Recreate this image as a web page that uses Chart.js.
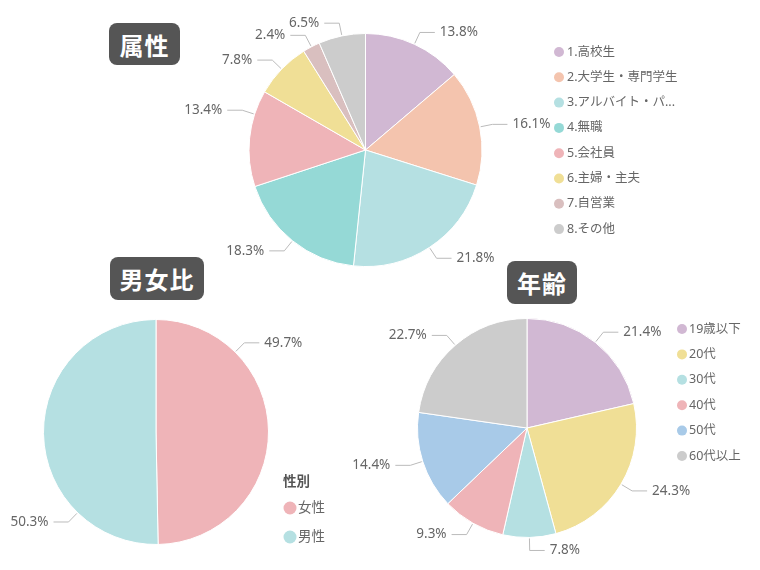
<!DOCTYPE html>
<html lang="ja">
<head>
<meta charset="utf-8">
<title>属性・男女比・年齢</title>
<script src="https://cdn.jsdelivr.net/npm/chart.js@4.4.1/dist/chart.umd.min.js"></script>
<style>
  html, body { margin: 0; padding: 0; background: #fff; }
  .stage { position: relative; width: 760px; height: 570px; overflow: hidden; }
  .stage canvas { position: absolute; left: 0; top: 0; }
  .badge {
    position: absolute;
    background: #555;
    color: #fff;
    font: bold 24px "Noto Sans CJK JP", sans-serif;
    border-radius: 8px;
    display: flex;
    align-items: center;
    justify-content: center;
    letter-spacing: 1px;
  }
</style>
</head>
<body>
<div class="stage">
  <canvas id="attrChart" width="760" height="570"></canvas>
  <canvas id="genderChart" width="760" height="570"></canvas>
  <canvas id="ageChart" width="760" height="570"></canvas>
  <div class="badge" style="left:109px;top:23px;width:71px;height:42px;">属性</div>
  <div class="badge" style="left:110px;top:257px;width:94px;height:43px;">男女比</div>
  <div class="badge" style="left:507px;top:261px;width:70px;height:43px;">年齢</div>
</div>
<script>
// 属性
const attrLabels = ['1.高校生', '2.大学生・専門学生', '3.アルバイト・パ...', '4.無職', '5.会社員', '6.主婦・主夫', '7.自営業', '8.その他'];
const attrValues = [13.8, 16.1, 21.8, 18.3, 13.4, 7.8, 2.4, 6.5];
const attrColors = ['#D1B8D3', '#F4C4AE', '#B5E0E2', '#95D9D6', '#EFB4B8', '#F0DF96', '#D9BFBF', '#CCCCCC'];

// 男女比
const genderLabels = ['女性', '男性'];
const genderValues = [49.7, 50.3];
const genderColors = ['#EFB4B8', '#B5E0E2'];

// 年齢
const ageLabels = ['19歳以下', '20代', '30代', '40代', '50代', '60代以上'];
const ageValues = [21.4, 24.3, 7.8, 9.3, 14.4, 22.7];
const ageColors = ['#D1B8D3', '#F0DF96', '#B5E0E2', '#EFB4B8', '#A8CAE8', '#CCCCCC'];

const FONT = '"Noto Sans", "Noto Sans CJK JP", sans-serif';
const TEXT_COLOR = '#666';

// etiquetas de porcentaje fuera del pastel con línea guía
const outsideLabels = {
  id: 'outsideLabels',
  afterDatasetsDraw(chart, args, opts) {
    const ctx = chart.ctx;
    const meta = chart.getDatasetMeta(0);
    const values = chart.data.datasets[0].data;
    const anchor = opts.anchor || [];
    ctx.save();
    ctx.font = '13.5px ' + FONT;
    ctx.textBaseline = 'middle';
    meta.data.forEach((arc, i) => {
      const p = arc.getProps(['x', 'y', 'startAngle', 'endAngle', 'outerRadius'], true);
      const f = anchor[i] != null ? anchor[i] : 0.5;
      const a = p.startAngle + (p.endAngle - p.startAngle) * f;
      const cos = Math.cos(a);
      const sin = Math.sin(a);
      const x0 = p.x + cos * (p.outerRadius + 1);
      const y0 = p.y + sin * (p.outerRadius + 1);
      const x1 = p.x + cos * (p.outerRadius + 13);
      const y1 = p.y + sin * (p.outerRadius + 13);
      const side = cos >= 0 ? 1 : -1;
      const x2 = x1 + side * 15;
      ctx.strokeStyle = '#bbb';
      ctx.lineWidth = 1;
      ctx.beginPath();
      ctx.moveTo(x0, y0);
      ctx.lineTo(x1, y1);
      ctx.lineTo(x2, y1);
      ctx.stroke();
      ctx.fillStyle = TEXT_COLOR;
      ctx.textAlign = side > 0 ? 'left' : 'right';
      ctx.fillText(values[i].toFixed(1) + '%', x2 + side * 5, y1);
    });
    ctx.restore();
  }
};

// leyenda con círculos
const dotLegend = {
  id: 'dotLegend',
  afterDraw(chart, args, opts) {
    const ctx = chart.ctx;
    const colors = chart.data.datasets[0].backgroundColor;
    ctx.save();
    ctx.textBaseline = 'middle';
    ctx.textAlign = 'left';
    if (opts.title) {
      ctx.font = 'bold ' + opts.fontSize + 'px ' + FONT;
      ctx.fillStyle = '#555';
      ctx.fillText(opts.title, opts.titleX, opts.titleY);
    }
    ctx.font = opts.fontSize + 'px ' + FONT;
    chart.data.labels.forEach((label, i) => {
      const y = opts.y + i * opts.gap;
      ctx.fillStyle = colors[i];
      ctx.beginPath();
      ctx.arc(opts.x, y, opts.radius, 0, Math.PI * 2);
      ctx.fill();
      ctx.fillStyle = TEXT_COLOR;
      ctx.fillText(label, opts.textX, y);
    });
    ctx.restore();
  }
};

function makePie(id, labels, values, colors, padding, labelOpts, legendOpts) {
  const ctx = document.getElementById(id).getContext('2d');
  return new Chart(ctx, {
    type: 'pie',
    data: {
      labels,
      datasets: [
        {
          data: values,
          backgroundColor: colors,
          borderColor: '#fff',
          borderWidth: 1,
        },
      ],
    },
    options: {
      responsive: false,
      animation: false,
      layout: { padding },
      plugins: {
        legend: { display: false },
        tooltip: { enabled: false },
        outsideLabels: labelOpts,
        dotLegend: legendOpts,
      },
    },
    plugins: [outsideLabels, dotLegend],
  });
}

makePie('attrChart', attrLabels, attrValues, attrColors,
  { left: 248, right: 277, top: 33, bottom: 303 },
  { anchor: [0.5, 0.5, 0.5, 0.5, 0.75, 0.5, 0.5, 0.5] },
  { x: 559, textX: 567, y: 52, gap: 25.3, radius: 5, fontSize: 12.5 });

makePie('genderChart', genderLabels, genderValues, genderColors,
  { left: 43, right: 491, top: 319, bottom: 25 },
  { anchor: [0.25, 0.25] },
  { x: 290, textX: 298, y: 508, gap: 29, radius: 6.5, fontSize: 13.5, title: '性別', titleX: 283, titleY: 482 });

makePie('ageChart', ageLabels, ageValues, ageColors,
  { left: 417, right: 123, top: 318, bottom: 32 },
  {},
  { x: 682, textX: 689, y: 329, gap: 25.4, radius: 5, fontSize: 12.5 });
</script>
</body>
</html>
